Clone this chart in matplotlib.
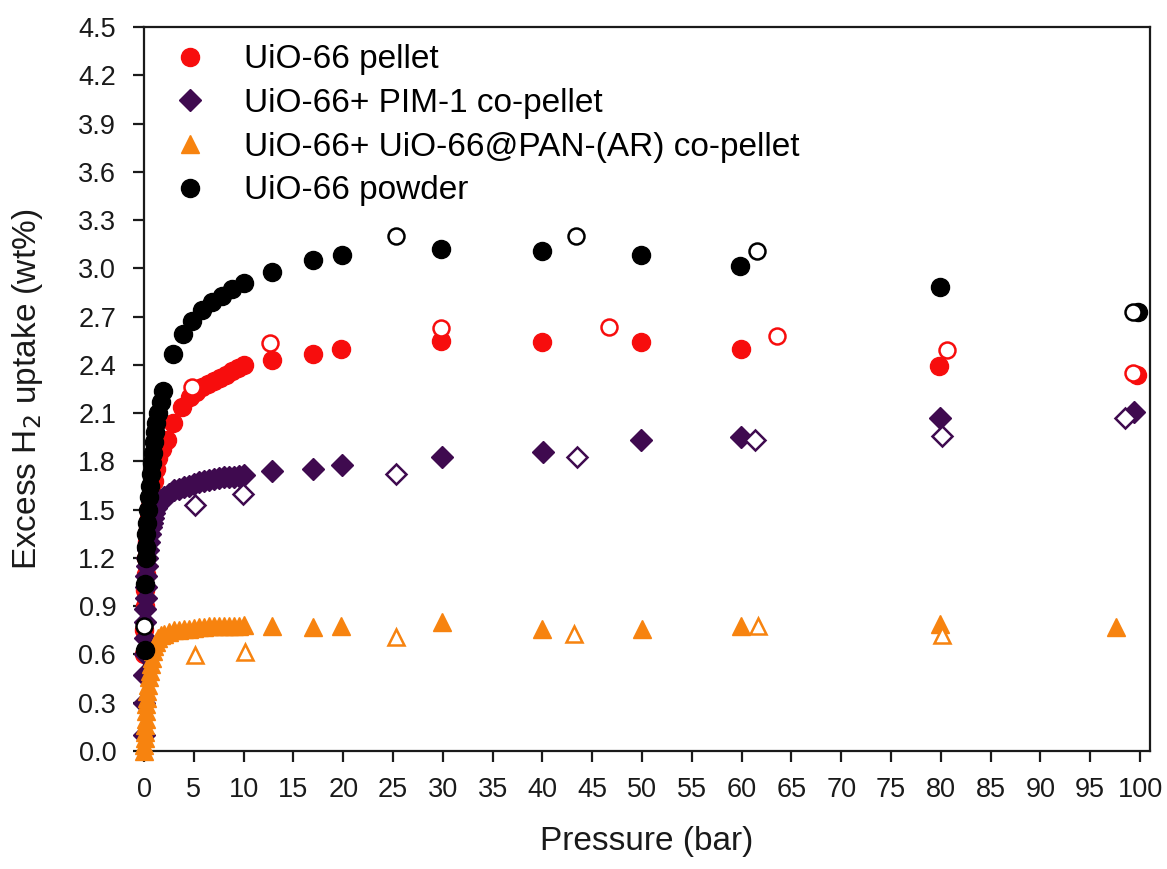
import matplotlib
matplotlib.use("Agg")
import matplotlib.pyplot as plt
import numpy as np

plt.rcParams['font.family'] = ['Liberation Sans', 'DejaVu Sans']

# UiO-66 pellet
pellet_ads_p = [0.0, 0.03, 0.06, 0.1, 0.15, 0.2, 0.3, 0.4, 0.5, 0.6, 0.8, 1.0, 1.2, 1.45, 1.8, 2.3,
                2.95, 3.8, 4.6, 5.2, 5.8, 6.4, 7.0, 7.6, 8.2, 8.8, 9.4, 10.0, 12.9, 17.0, 19.8, 29.8,
                40.0, 49.9, 59.9, 79.8, 99.7]
pellet_ads_u = [0.6, 0.75, 0.9, 1.0, 1.1, 1.2, 1.3, 1.38, 1.45, 1.52, 1.6, 1.68, 1.75, 1.82, 1.88, 1.93,
                2.04, 2.14, 2.20, 2.23, 2.26, 2.28, 2.30, 2.32, 2.34, 2.36, 2.38, 2.40, 2.43, 2.47, 2.50, 2.55,
                2.54, 2.54, 2.50, 2.395, 2.34]
pellet_des_p = [4.8, 12.65, 29.8, 46.7, 63.6, 80.6, 99.3]
pellet_des_u = [2.26, 2.535, 2.63, 2.635, 2.58, 2.49, 2.35]

# UiO-66 + PIM-1 co-pellet
pim_ads_p = [0.0, 0.02, 0.04, 0.06, 0.08, 0.1, 0.13, 0.16, 0.2, 0.25, 0.3, 0.35, 0.4, 0.5, 0.6, 0.7,
             0.8, 0.9, 1.0, 1.2, 1.4, 1.7, 2.0, 2.5, 3.0, 3.5, 4.0, 4.5, 5.0, 5.5, 6.0, 6.5, 7.0, 7.5,
             8.0, 8.5, 9.0, 9.5, 10.0, 12.9, 17.0, 19.9, 29.9, 40.1, 49.9, 59.9, 79.9, 99.4]
pim_ads_u = [0.10, 0.3, 0.47, 0.6, 0.7, 0.8, 0.88, 0.95, 1.02, 1.09, 1.15, 1.2, 1.25, 1.3, 1.35, 1.39,
             1.42, 1.45, 1.48, 1.51, 1.53, 1.56, 1.58, 1.6, 1.62, 1.63, 1.64, 1.65, 1.66, 1.67, 1.68, 1.685,
             1.69, 1.695, 1.70, 1.70, 1.705, 1.71, 1.715, 1.74, 1.75, 1.78, 1.83, 1.86, 1.93, 1.95, 2.07, 2.11]
pim_des_p = [5.1, 9.95, 25.3, 43.5, 61.3, 80.1, 98.5]
pim_des_u = [1.53, 1.60, 1.72, 1.83, 1.93, 1.96, 2.07]

# UiO-66 + UiO-66@PAN-(AR) co-pellet
pan_ads_p = [0.0, 0.02, 0.05, 0.08, 0.1, 0.15, 0.2, 0.25, 0.3, 0.35, 0.4, 0.5, 0.6, 0.7, 0.8, 0.9,
             1.0, 1.2, 1.4, 1.7, 2.0, 2.5, 3.0, 3.5, 4.0, 4.5, 5.0, 5.5, 6.0, 6.5, 7.0, 7.5, 8.0, 8.5,
             9.0, 9.5, 10.0, 12.9, 17.0, 19.8, 29.9, 40.0, 50.0, 59.9, 79.9, 97.6]
pan_ads_u = [0.0, 0.04, 0.08, 0.12, 0.16, 0.2, 0.25, 0.29, 0.33, 0.37, 0.41, 0.46, 0.5, 0.54, 0.58, 0.62,
             0.65, 0.68, 0.7, 0.72, 0.73, 0.74, 0.75, 0.755, 0.76, 0.76, 0.765, 0.77, 0.77, 0.775, 0.775,
             0.78, 0.78, 0.78, 0.78, 0.78, 0.785, 0.78, 0.77, 0.78, 0.80, 0.76, 0.76, 0.78, 0.79, 0.77]
pan_des_p = [5.1, 10.1, 25.3, 43.2, 61.6, 80.1]
pan_des_u = [0.595, 0.615, 0.71, 0.73, 0.78, 0.72]

# UiO-66 powder
powder_ads_p = [0.05, 0.1, 0.15, 0.2, 0.25, 0.3, 0.4, 0.5, 0.6, 0.7, 0.8, 0.9, 1.0, 1.1, 1.25, 1.45,
                1.7, 1.95, 2.9, 3.9, 4.8, 5.8, 6.8, 7.8, 8.8, 10.0, 12.9, 17.0, 19.9, 29.8, 40.0, 49.9,
                59.8, 79.9, 99.8]
powder_ads_u = [0.63, 1.04, 1.2, 1.27, 1.35, 1.42, 1.5, 1.58, 1.65, 1.72, 1.79, 1.85, 1.92, 1.98, 2.04, 2.10,
                2.17, 2.24, 2.47, 2.59, 2.67, 2.74, 2.79, 2.83, 2.87, 2.91, 2.98, 3.05, 3.08, 3.12, 3.11, 3.08,
                3.015, 2.885, 2.73]
powder_des_p = [0.0, 25.3, 43.4, 61.5, 99.3]
powder_des_u = [0.78, 3.20, 3.20, 3.11, 2.73]

labels = ['UiO-66 pellet', 'UiO-66+ PIM-1 co-pellet',
          'UiO-66+ UiO-66@PAN-(AR) co-pellet', 'UiO-66 powder']
colors = ['#f70d0d', '#3f0a4f', '#f7830f', '#000000']
markers = ['o', 'D', '^', 'o']
sizes = [13, 11.5, 13, 13]

series = [
    (pellet_ads_p, pellet_ads_u, pellet_des_p, pellet_des_u),
    (pim_ads_p, pim_ads_u, pim_des_p, pim_des_u),
    (pan_ads_p, pan_ads_u, pan_des_p, pan_des_u),
    (powder_ads_p, powder_ads_u, powder_des_p, powder_des_u),
]

txt = '#1a1a1a'

fig = plt.figure(figsize=(11.67, 8.69), dpi=100)
ax = fig.add_axes([0.1234, 0.1358, 0.8620, 0.8331])

for i, (ap, au, dp, du) in enumerate(series):
    ax.plot(ap, au, linestyle='none', marker=markers[i], ms=sizes[i], color=colors[i],
            mec=colors[i], label=labels[i], zorder=3 + i, clip_on=False)
    ax.plot(dp, du, linestyle='none', marker=markers[i], ms=sizes[i] - 1.5, mfc='white',
            mec=colors[i], mew=1.8, zorder=3 + i, clip_on=False)

ax.set_xlim(0, 101)
ax.set_ylim(0, 4.5)
ax.set_xticks(np.arange(0, 101, 5))
ax.set_yticks(np.arange(0, 4.51, 0.3))
ax.yaxis.set_major_formatter(matplotlib.ticker.FormatStrFormatter('%.1f'))

for s in ax.spines.values():
    s.set_linewidth(1.6)
    s.set_color(txt)
ax.tick_params(direction='out', length=8, width=1.6, labelsize=19.5, colors=txt)
ax.tick_params(axis='x', pad=11)
ax.tick_params(axis='y', pad=12)

ax.set_xlabel('Pressure (bar)', fontsize=24, color=txt, labelpad=16)
ax.set_ylabel('Excess H$_2$ uptake (wt%)', fontsize=24, color=txt, labelpad=24)

ax.legend(loc='upper left', bbox_to_anchor=(0.008, 1.006), frameon=False, fontsize=24,
          handlelength=1.0, handletextpad=1.1, labelspacing=0.38, borderaxespad=0.25,
          markerscale=1.0)

plt.savefig('out.png', dpi=100)
plt.close()
